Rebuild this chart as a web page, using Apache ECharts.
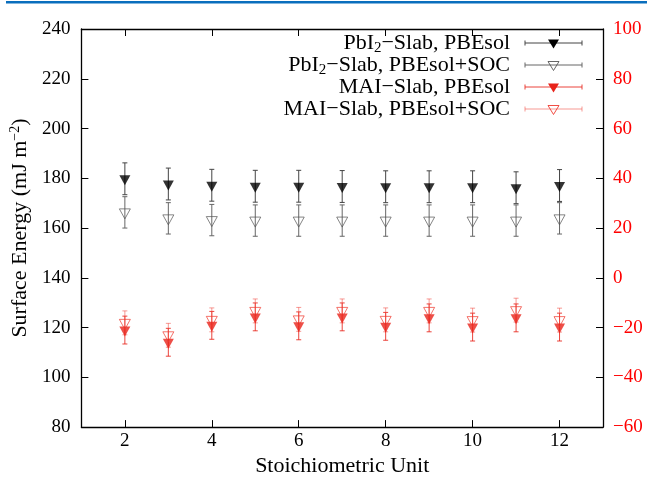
<!DOCTYPE html>
<html>
<head>
<meta charset="utf-8">
<script src="https://cdn.jsdelivr.net/npm/echarts@6/dist/echarts.min.js"></script>
<style>
  html, body { margin: 0; padding: 0; background: #fff; }
  #chart { width: 647px; height: 482px; }
</style>
</head>
<body>
<div id="chart"></div>
<script>
// Stoichiometric units (slab thickness)
const units = [2, 3, 4, 5, 6, 7, 8, 9, 10, 11, 12];

// Surface energies (mJ m^-2) and their uncertainties
const pbiPbesol     = [179.8, 177.7, 177.2, 176.8, 176.8, 176.7, 176.6, 176.6, 176.6, 176.2, 177.1];
const pbiPbesolErr  = [6.4, 6.4, 6.4, 6.4, 6.4, 6.4, 6.4, 6.4, 6.4, 6.4, 6.4];
const pbiSoc        = [166.3, 163.9, 163.2, 163.0, 163.0, 163.0, 163.0, 163.0, 163.0, 163.0, 163.9];
const pbiSocErr     = [6.3, 6.3, 6.3, 6.3, 6.3, 6.3, 6.3, 6.3, 6.3, 6.3, 6.3];
const maiPbesol     = [119.0, 114.1, 120.9, 124.3, 120.7, 124.3, 120.5, 123.9, 120.2, 123.9, 120.2];
const maiPbesolErr  = [5.6, 5.6, 5.6, 5.6, 5.6, 5.6, 5.6, 5.6, 5.6, 5.6, 5.6];
const maiSoc        = [121.9, 116.9, 123.1, 126.7, 123.3, 126.7, 123.1, 126.7, 123.0, 127.0, 123.0];
const maiSocErr     = [4.8, 4.8, 4.8, 4.8, 4.8, 4.8, 4.8, 4.8, 4.8, 4.8, 4.8];

// Axis ticks
const xTicks = [2, 4, 6, 8, 10, 12];

const FONT = 'Liberation Serif';
const TICK_FONT = '"Liberation Serif", "Times New Roman", serif';
const DOWN_TRI = 'path://M0,0 L10,0 L5,9 Z';

const seriesDefs = [
  { name: 'PbI2-Slab, PBEsol',     label: '{t|PbI}{s|2}{t|\u2212Slab, PBEsol}',     y: pbiPbesol, err: pbiPbesolErr, marker: '#000000', filled: true,  bar: '#444444' },
  { name: 'PbI2-Slab, PBEsol+SOC', label: '{t|PbI}{s|2}{t|\u2212Slab, PBEsol+SOC}', y: pbiSoc,    err: pbiSocErr,    marker: '#555555', filled: false, bar: '#666666' },
  { name: 'MAI-Slab, PBEsol',      label: '{t|MAI\u2212Slab, PBEsol}',              y: maiPbesol, err: maiPbesolErr, marker: '#e8231a', filled: true,  bar: 'rgba(232,35,26,0.85)' },
  { name: 'MAI-Slab, PBEsol+SOC',  label: '{t|MAI\u2212Slab, PBEsol+SOC}',          y: maiSoc,    err: maiSocErr,    marker: '#ef3a30', filled: false, bar: 'rgba(240,70,60,0.55)' }
];

function errorBarRenderer(color) {
  return function (params, api) {
    const x = api.value(0), y = api.value(1), e = api.value(2);
    const lo = api.coord([x, y - e]);
    const hi = api.coord([x, y + e]);
    const cap = 2.5;
    const st = { stroke: color, lineWidth: 1 };
    return {
      type: 'group',
      children: [
        { type: 'line', shape: { x1: lo[0], y1: lo[1], x2: hi[0], y2: hi[1] }, style: st },
        { type: 'line', shape: { x1: lo[0] - cap, y1: lo[1], x2: lo[0] + cap, y2: lo[1] }, style: st },
        { type: 'line', shape: { x1: hi[0] - cap, y1: hi[1], x2: hi[0] + cap, y2: hi[1] }, style: st }
      ]
    };
  };
}

const series = [];
seriesDefs.forEach(function (d) {
  series.push({
    type: 'custom',
    name: d.name + ' err',
    xAxisIndex: 0, yAxisIndex: 0,
    renderItem: errorBarRenderer(d.bar),
    data: units.map(function (u, i) { return [u, d.y[i], d.err[i]]; }),
    z: 2, silent: true
  });
});
seriesDefs.forEach(function (d) {
  series.push({
    type: 'scatter',
    name: d.name,
    xAxisIndex: 0, yAxisIndex: 0,
    symbol: DOWN_TRI,
    symbolSize: [11, 10],
    symbolOffset: [0, 1.5],
    itemStyle: d.filled
      ? { color: d.marker, borderWidth: 0 }
      : { color: 'rgba(255,255,255,0)', borderColor: d.marker, borderWidth: 0.9 },
    data: units.map(function (u, i) { return [u, d.y[i]]; }),
    z: 3, silent: true
  });
});

// Key drawn at the upper right of the plot area
const legendGraphics = [];
const rowY = [43, 65, 87, 109];
seriesDefs.forEach(function (d, i) {
  const y = rowY[i];
  const lst = { stroke: d.bar, lineWidth: 1 };
  legendGraphics.push(
    { type: 'text', x: 510, y: y, style: {
        text: d.label, align: 'right', verticalAlign: 'middle', fill: '#000',
        fontFamily: FONT, fontSize: 22,
        rich: {
          t: { fontFamily: FONT, fontSize: 22, fill: '#000' },
          s: { fontFamily: FONT, fontSize: 15, fill: '#000', verticalAlign: 'bottom', padding: [11, 0, 0, 0] }
        } } },
    { type: 'line', shape: { x1: 525, y1: y, x2: 582, y2: y }, style: lst },
    { type: 'line', shape: { x1: 525, y1: y - 2.5, x2: 525, y2: y + 2.5 }, style: lst },
    { type: 'line', shape: { x1: 582, y1: y - 2.5, x2: 582, y2: y + 2.5 }, style: lst },
    { type: 'polygon', shape: { points: [[548, y - 3.5], [559, y - 3.5], [553.5, y + 5.5]] },
      style: d.filled ? { fill: d.marker } : { fill: 'rgba(255,255,255,0)', stroke: d.marker, lineWidth: 0.9 }, z: 10 }
  );
});

function fmt(v) {
  return v < 0 ? '\u2212' + Math.abs(v) : String(v);
}

const chart = echarts.init(document.getElementById('chart'), null, { renderer: 'canvas' });
chart.setOption({
  animation: false,
  backgroundColor: '#ffffff',
  textStyle: { fontFamily: TICK_FONT },
  grid: { left: 77, right: 44, top: 29, bottom: 49, containLabel: false },
  xAxis: [
    {
      type: 'value', min: 1, max: 13, position: 'bottom',
      name: 'Stoichiometric Unit', nameLocation: 'middle', nameGap: 21,
      nameTextStyle: { fontFamily: FONT, fontSize: 22, color: '#000' },
      axisLine: { onZero: false, lineStyle: { color: '#000', width: 1.3 } },
      axisTick: { inside: true, length: 7, customValues: xTicks, lineStyle: { color: '#000' } },
      axisLabel: { customValues: xTicks, margin: 4, formatter: fmt, fontFamily: TICK_FONT, fontSize: 19, color: '#000' },
      splitLine: { show: false }
    },
    {
      type: 'value', min: 1, max: 13, position: 'top',
      axisLine: { onZero: false, lineStyle: { color: '#000', width: 1.3 } },
      axisTick: { inside: true, length: 7, customValues: xTicks, lineStyle: { color: '#000' } },
      axisLabel: { show: false },
      splitLine: { show: false }
    }
  ],
  yAxis: [
    {
      type: 'value', min: 80, max: 240, interval: 20, position: 'left',
      name: 'Surface Energy (mJ m{sup|\u22122})', nameLocation: 'middle', nameGap: 48,
      nameTextStyle: { fontFamily: FONT, fontSize: 22, color: '#000',
        rich: { sup: { fontFamily: FONT, fontSize: 14, color: '#000', verticalAlign: 'top', padding: [0, 0, 10, 0] } } },
      axisLine: { show: true, onZero: false, lineStyle: { color: '#000', width: 1.3 } },
      axisTick: { inside: true, length: 7, lineStyle: { color: '#000' } },
      axisLabel: { margin: 11, formatter: fmt, fontFamily: TICK_FONT, fontSize: 19, color: '#000' },
      splitLine: { show: false }
    },
    {
      type: 'value', min: -60, max: 100, interval: 20, position: 'right',
      axisLine: { show: true, onZero: false, lineStyle: { color: '#000', width: 1.3 } },
      axisTick: { inside: true, length: 7, lineStyle: { color: '#000' } },
      axisLabel: { margin: 10, formatter: fmt, fontFamily: TICK_FONT, fontSize: 19, color: '#ff0000' },
      splitLine: { show: false }
    }
  ],
  graphic: [
    { type: 'rect', shape: { x: 6, y: 1, width: 641, height: 2.5 }, style: { fill: '#0a6ebd' }, silent: true }
  ].concat(legendGraphics),
  series: series
});
</script>
</body>
</html>
